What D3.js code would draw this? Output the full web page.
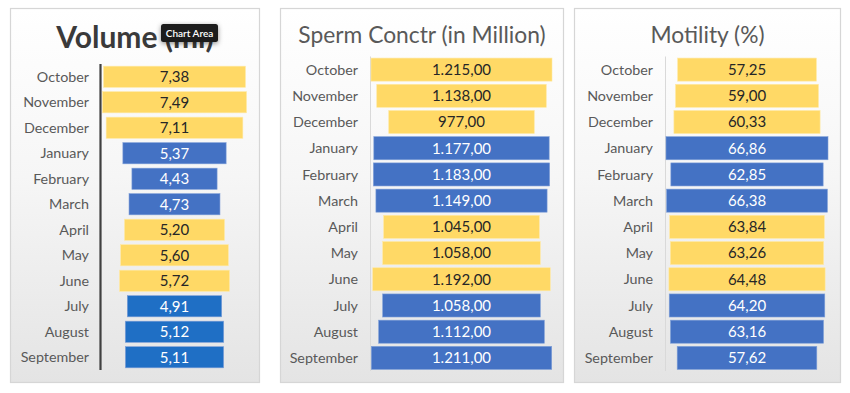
<!DOCTYPE html>
<html>
<head>
<meta charset="utf-8">
<script src="https://cdn.jsdelivr.net/npm/d3@7"></script>
<style>
  html,body{margin:0;padding:0;background:#fff;}
  svg{display:block;font-family:Lato,"Open Sans",sans-serif;}
</style>
</head>
<body>
<svg id="chart" width="850" height="393"></svg>
<script>
/* ---------- data ---------- */
const months = ["October","November","December","January","February","March",
                "April","May","June","July","August","September"];
const volume    = [7.38,7.49,7.11,5.37,4.43,4.73,5.20,5.60,5.72,4.91,5.12,5.11];
const spermConc = [1215,1138,977,1177,1183,1149,1045,1058,1192,1058,1112,1211];
const motility  = [57.25,59.00,60.33,66.86,62.85,66.38,63.84,63.26,64.48,64.20,63.16,57.62];
// colour group per month: "y" yellow, "b" blue, "b2" second blue (only differs in panel 1)
const groups    = ["y","y","y","b","b","b","y","y","y","b2","b2","b2"];

const titles = ["Volume (ml)","Sperm Conctr (in Million)","Motility (%)"];

/* ---------- helpers ---------- */
const loc = d3.formatLocale({decimal:",",thousands:".",grouping:[3],currency:["",""]});
const fmt = loc.format(",.2f");
const svg = d3.select("#chart");

const defs = svg.append("defs");
const grad = defs.append("linearGradient").attr("id","bg").attr("x1",0).attr("y1",0).attr("x2",0).attr("y2",1);
grad.append("stop").attr("offset","0%").attr("stop-color","#ffffff");
grad.append("stop").attr("offset","45%").attr("stop-color","#f6f6f6");
grad.append("stop").attr("offset","100%").attr("stop-color","#e4e4e4");
const sh = defs.append("filter").attr("id","shadow").attr("x","-30%").attr("y","-40%").attr("width","160%").attr("height","200%");
sh.append("feDropShadow").attr("dx",0).attr("dy",1.5).attr("stdDeviation",2.5).attr("flood-opacity",0.45);

function drawPanel(p){
  const g = svg.append("g");
  g.append("rect").attr("x",p.box[0]).attr("y",p.box[1])
    .attr("width",p.box[2]-p.box[0]).attr("height",p.box[3]-p.box[1])
    .attr("fill","url(#bg)").attr("stroke","#d6d6d6").attr("stroke-width",1.2);

  g.append("text").attr("x",(p.box[0]+p.box[2])/2).attr("y",p.titleY)
    .attr("text-anchor","middle").attr("fill",p.bold?"#3a3a3a":"#595959")
    .attr("font-size",p.titleSize).attr("font-weight",p.bold?700:400)
    .text(p.title);

  const y = d3.scaleBand().domain(months).range([p.y0,p.y1]).paddingInner(p.pad).paddingOuter(p.pad/2);
  const x = d3.scaleLinear().domain([0,d3.max(p.values)]).range([0,p.x1-p.x0]);
  const cx = (p.x0+p.x1)/2;

  g.append("line").attr("x1",p.axisX).attr("x2",p.axisX)
    .attr("y1",p.y0).attr("y2",p.y1)
    .attr("stroke",p.axisColor).attr("stroke-width",p.axisW);

  const colorOf = k => k==="y" ? "#ffd966" : (k==="b" ? "#4472c4" : (p.blue2||"#4472c4"));

  const rows = months.map((m,i)=>({m,v:p.values[i],k:groups[i]}));
  g.selectAll("rect.bar").data(rows).join("rect").attr("class","bar")
    .attr("x",d=>cx-x(d.v)/2).attr("width",d=>x(d.v))
    .attr("y",d=>y(d.m)).attr("height",y.bandwidth())
    .attr("fill",d=>colorOf(d.k))
    .attr("stroke",d=>d.k==="y"?"#ffe9a6":"#7f9fd8").attr("stroke-width",0.6);

  g.selectAll("text.val").data(rows).join("text").attr("class","val")
    .attr("x",cx).attr("y",d=>y(d.m)+y.bandwidth()/2).attr("dy","0.36em")
    .attr("text-anchor","middle").attr("font-size",p.valSize)
    .attr("fill",d=>d.k==="y"?"#262626":"#ffffff")
    .text(d=>fmt(d.v));

  g.selectAll("text.cat").data(rows).join("text").attr("class","cat")
    .attr("x",p.labelX).attr("y",d=>y(d.m)+y.bandwidth()/2).attr("dy","0.36em")
    .attr("text-anchor","end").attr("font-size",p.catSize).attr("fill","#595959")
    .text(d=>d.m);
  return g;
}

drawPanel({title:titles[0],values:volume,box:[10.5,8.5,259.5,382.5],titleY:48,titleSize:30,bold:true,
  y0:64,y1:370,pad:0.17,x0:102.5,x1:246.5,axisX:100.5,axisColor:"#404040",axisW:2.2,
  labelX:89,catSize:14.3,valSize:15,blue2:"#1f6fc5"});
drawPanel({title:titles[1],values:spermConc,box:[280.5,8.5,563.5,382.5],titleY:43,titleSize:22.8,bold:false,
  y0:56.5,y1:371,pad:0.12,x0:371,x1:552,axisX:370.5,axisColor:"#d9d9d9",axisW:1,
  labelX:358,catSize:14.3,valSize:15});
drawPanel({title:titles[2],values:motility,box:[574.5,8.5,840.5,382.5],titleY:43,titleSize:22.8,bold:false,
  y0:56.5,y1:371,pad:0.12,x0:666,x1:828,axisX:665.5,axisColor:"#d9d9d9",axisW:1,
  labelX:653,catSize:14.3,valSize:15});

/* ---------- "Chart Area" hover tip over first title ---------- */
const tip = svg.append("g").attr("transform","translate(161,24)");
tip.append("rect").attr("width",57).attr("height",18).attr("rx",2.5)
  .attr("fill","#1b1b1b").attr("filter","url(#shadow)");
tip.append("text").attr("x",28.5).attr("y",12.8).attr("text-anchor","middle")
  .attr("font-size",10).attr("font-weight",600).attr("fill","#fff").text("Chart Area");
</script>
</body>
</html>
